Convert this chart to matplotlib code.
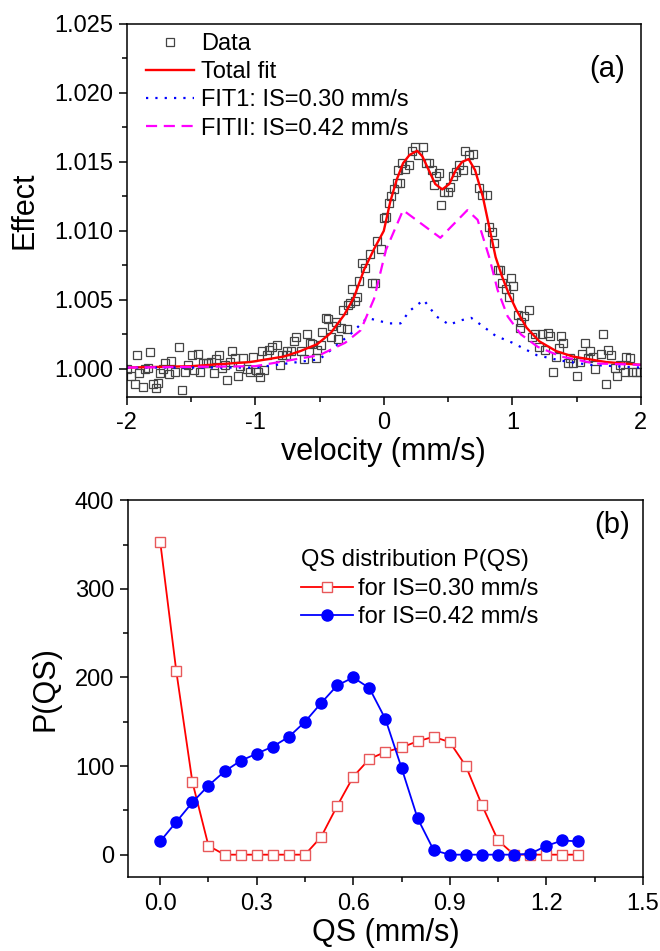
import matplotlib

matplotlib.use("Agg")
import matplotlib.pyplot as plt
from matplotlib.ticker import MultipleLocator

plt.rcParams["font.family"] = ["Liberation Sans", "DejaVu Sans"]

# ---- panel (a): Mossbauer spectrum ----
data_v = [
    -1.998, -1.964, -1.938, -1.920, -1.902, -1.876, -1.855, -1.834, -1.816, -1.798,
    -1.772, -1.756, -1.738, -1.720, -1.699, -1.673, -1.652, -1.621, -1.590, -1.569,
    -1.549, -1.522, -1.491, -1.478, -1.444, -1.426, -1.408, -1.387, -1.366, -1.341,
    -1.323, -1.304, -1.279, -1.257, -1.232, -1.218, -1.200, -1.179, -1.159, -1.132,
    -1.115, -1.097, -1.062, -1.037, -1.019, -0.998, -0.980, -0.964, -0.945, -0.933,
    -0.912, -0.894, -0.868, -0.834, -0.808, -0.790, -0.764, -0.751, -0.719, -0.699,
    -0.686, -0.647, -0.621, -0.600, -0.574, -0.556, -0.530, -0.517, -0.491, -0.478,
    -0.452, -0.434, -0.413, -0.400, -0.374, -0.356, -0.330, -0.314, -0.288, -0.278,
    -0.263, -0.244, -0.226, -0.210, -0.193, -0.166, -0.148, -0.107, -0.088, -0.065,
    -0.049, -0.023, 0.003, 0.016, 0.037, 0.055, 0.080, 0.099, 0.107, 0.125,
    0.140, 0.166, 0.197, 0.218, 0.244, 0.270, 0.306, 0.327, 0.353, 0.374,
    0.392, 0.405, 0.426, 0.444, 0.470, 0.497, 0.514, 0.540, 0.561, 0.587,
    0.618, 0.634, 0.660, 0.696, 0.712, 0.738, 0.764, 0.800, 0.821, 0.842,
    0.860, 0.886, 0.904, 0.920, 0.951, 0.972, 0.990, 1.008, 1.042, 1.060,
    1.068, 1.094, 1.133, 1.154, 1.180, 1.206, 1.232, 1.258, 1.276, 1.294,
    1.315, 1.341, 1.362, 1.380, 1.398, 1.432, 1.450, 1.471, 1.502, 1.523,
    1.543, 1.564, 1.588, 1.606, 1.631, 1.647, 1.691, 1.709, 1.730, 1.743,
    1.769, 1.795, 1.814, 1.834, 1.873, 1.886, 1.912, 1.933, 1.964, 1.990,
]
data_eff = [
    1.0000, 0.9995, 0.9989, 1.0010, 0.9997, 0.9987, 1.0000, 1.0001, 1.0012, 0.9989,
    0.9986, 0.9990, 0.9997, 1.0000, 1.0004, 0.9996, 1.0006, 0.9998, 1.0016, 0.9985,
    0.9998, 1.0003, 1.0010, 0.9999, 1.0011, 0.9998, 1.0004, 1.0004, 1.0004, 1.0005,
    0.9997, 1.0007, 1.0010, 1.0001, 1.0003, 0.9992, 1.0005, 1.0013, 1.0008, 0.9995,
    1.0002, 1.0008, 1.0000, 0.9998, 1.0009, 0.9999, 0.9998, 0.9994, 1.0013, 0.9999,
    1.0010, 1.0014, 1.0016, 1.0017, 1.0003, 1.0010, 1.0010, 1.0013, 1.0013, 1.0020,
    1.0023, 1.0013, 1.0007, 1.0025, 1.0019, 1.0018, 1.0008, 1.0014, 1.0017, 1.0027,
    1.0037, 1.0036, 1.0023, 1.0031, 1.0034, 1.0022, 1.0030, 1.0043, 1.0029, 1.0046,
    1.0048, 1.0058, 1.0049, 1.0052, 1.0064, 1.0077, 1.0073, 1.0083, 1.0062, 1.0062,
    1.0093, 1.0087, 1.0109, 1.0110, 1.0120, 1.0125, 1.0130, 1.0135, 1.0144, 1.0135,
    1.0149, 1.0145, 1.0148, 1.0158, 1.0161, 1.0155, 1.0161, 1.0149, 1.0149, 1.0144,
    1.0133, 1.0140, 1.0142, 1.0119, 1.0128, 1.0128, 1.0132, 1.0140, 1.0143, 1.0148,
    1.0144, 1.0158, 1.0155, 1.0156, 1.0144, 1.0131, 1.0126, 1.0126, 1.0103, 1.0099,
    1.0091, 1.0072, 1.0072, 1.0062, 1.0058, 1.0052, 1.0066, 1.0060, 1.0039, 1.0030,
    1.0034, 1.0038, 1.0043, 1.0023, 1.0025, 1.0016, 1.0025, 1.0014, 1.0026, 1.0024,
    0.9998, 1.0009, 1.0015, 1.0024, 1.0019, 1.0004, 1.0008, 1.0004, 0.9995, 1.0005,
    1.0011, 1.0019, 1.0008, 1.0013, 1.0009, 1.0000, 1.0011, 1.0025, 0.9989, 1.0014,
    1.0010, 1.0001, 0.9995, 1.0003, 0.9998, 1.0009, 1.0008, 0.9998, 0.9998, 0.9998,
]

fit_v = [-2.0, -1.5, -1.04, -0.777, -0.647, -0.517, -0.413, -0.309, -0.231, -0.153,
         -0.075, 0.0, 0.05, 0.10, 0.15, 0.20, 0.26, 0.30, 0.35, 0.40, 0.455, 0.51,
         0.56, 0.61, 0.66, 0.71, 0.77, 0.82, 0.87, 0.92, 0.97, 1.03, 1.11, 1.21,
         1.34, 1.47, 1.60, 1.73, 1.86, 2.0]
fit_total = [1.0001, 1.0002, 1.0005, 1.0009, 1.0013, 1.0018, 1.0026, 1.0039, 1.0052,
             1.0072, 1.0087, 1.0100, 1.0121, 1.0137, 1.0149, 1.0155, 1.0158, 1.0154,
             1.0144, 1.0134, 1.0130, 1.0134, 1.0144, 1.0150, 1.0152, 1.0144, 1.0125,
             1.0103, 1.0081, 1.0067, 1.0055, 1.0043, 1.0030, 1.0020, 1.0013, 1.0009,
             1.0007, 1.0005, 1.0004, 1.0003]

fit1_v = [-2.0, -1.0, -0.5, -0.25, -0.13, 0.04, 0.13, 0.20, 0.31, 0.41, 0.51, 0.59,
          0.68, 0.77, 0.87, 1.0, 1.19, 1.38, 1.6, 2.0]
fit1 = [1.0001, 1.0001, 1.0007, 1.0026, 1.0037, 1.0033, 1.0033, 1.0042, 1.0050,
        1.0038, 1.0032, 1.0035, 1.0037, 1.0031, 1.0024, 1.0019, 1.0010, 1.0006,
        1.0003, 1.0001]

fit2_v = [-2.0, -1.0, -0.5, -0.3, -0.18, -0.075, 0.016, 0.15, 0.44, 0.65, 0.73,
          0.82, 0.886, 0.964, 1.067, 1.198, 1.38, 1.64, 2.0]
fit2 = [1.0001, 1.0002, 1.0010, 1.0019, 1.0028, 1.0051, 1.0086, 1.0115, 1.0095,
        1.0115, 1.0108, 1.0081, 1.0057, 1.0038, 1.0025, 1.0016, 1.0009, 1.0004,
        1.0003]

# ---- panel (b): QS distributions ----
qs = [0.00, 0.05, 0.10, 0.15, 0.20, 0.25, 0.30, 0.35, 0.40, 0.45, 0.50, 0.55, 0.60, 0.65,
      0.70, 0.75, 0.80, 0.85, 0.90, 0.95, 1.00, 1.05, 1.10, 1.15, 1.20, 1.25, 1.30]
p_is030 = [353, 207, 82, 10, 0, 0, 0, 0, 0, 0, 20, 55, 88, 108,
           116, 121, 128, 133, 127, 100, 56, 16, 0, 0, 0, 0, 0]
p_is042 = [15, 37, 59, 78, 94, 106, 114, 122, 133, 150, 171, 191, 200, 188,
           153, 98, 41, 5, 0, 0, 0, 0, 0, 1, 10, 16, 15]


def style_axes(ax, xpad=4):
    for sp in ax.spines.values():
        sp.set_linewidth(1.1)
    ax.tick_params(which="both", direction="out", top=False, right=False,
                   labelsize=17, pad=4)
    ax.tick_params(axis="x", which="both", pad=xpad)
    ax.tick_params(which="major", length=6, width=1.1)
    ax.tick_params(which="minor", length=3.5, width=1.1)


fig = plt.figure(figsize=(6.6, 9.51), dpi=100)

ax1 = fig.add_axes([0.192, 0.583, 0.779, 0.392])
ax1.plot(data_v, data_eff, ls="none", marker="s", ms=5.5, mfc="none", mec="#444444",
         mew=0.9, label="Data")
ax1.plot(fit_v, fit_total, color="#ff0000", lw=1.7, label="Total fit")
ax1.plot(fit1_v, fit1, color="#0000ff", lw=1.6, ls=(0, (1, 3.2)), label="FIT1: IS=0.30 mm/s")
ax1.plot(fit2_v, fit2, color="#ff00ff", lw=1.6, ls=(0, (5, 3)), label="FITII: IS=0.42 mm/s")
ax1.set_xlim(-2, 2)
ax1.set_ylim(0.998, 1.025)
ax1.xaxis.set_major_locator(MultipleLocator(1))
ax1.xaxis.set_minor_locator(MultipleLocator(0.5))
ax1.yaxis.set_major_locator(MultipleLocator(0.005))
ax1.yaxis.set_minor_locator(MultipleLocator(0.0025))
ax1.yaxis.set_major_formatter(plt.FormatStrFormatter("%.3f"))
ax1.xaxis.set_major_formatter(plt.FuncFormatter(lambda v, p: f"{v:.0f}"))
style_axes(ax1, xpad=5)
ax1.set_xlabel("velocity (mm/s)", fontsize=22, labelpad=2)
ax1.set_ylabel("Effect", fontsize=22, labelpad=10)
ax1.legend(loc="upper left", frameon=False, fontsize=17, handlelength=2.0,
           handletextpad=0.3, labelspacing=0.26, borderaxespad=0.0,
           bbox_to_anchor=(0.02, 1.0))
ax1.text(0.97, 0.88, "(a)", transform=ax1.transAxes, ha="right", va="center", fontsize=21)

ax2 = fig.add_axes([0.194, 0.078, 0.780, 0.396])
ax2.plot(qs, p_is030, color="#ff0000", lw=1.3, marker="s", ms=6.5, mfc="white",
         mec="#e8585a", mew=1.0, label="for IS=0.30 mm/s")
ax2.plot(qs, p_is042, color="#0000ff", lw=1.3, marker="o", ms=8, mfc="#0000ff",
         mec="#0000ff", label="for IS=0.42 mm/s")
ax2.set_xlim(-0.1, 1.5)
ax2.set_ylim(-25, 400)
ax2.xaxis.set_major_locator(MultipleLocator(0.3))
ax2.xaxis.set_minor_locator(MultipleLocator(0.15))
ax2.yaxis.set_major_locator(MultipleLocator(100))
ax2.yaxis.set_minor_locator(MultipleLocator(50))
ax2.xaxis.set_major_formatter(plt.FormatStrFormatter("%.1f"))
style_axes(ax2, xpad=6)
ax2.set_xlabel("QS (mm/s)", fontsize=22, labelpad=2)
ax2.set_ylabel("P(QS)", fontsize=22, labelpad=10)
ax2.legend(loc="upper left", bbox_to_anchor=(0.318, 0.895), frameon=False, fontsize=17,
           title="QS distribution P(QS)", title_fontsize=17, handlelength=2.2,
           handletextpad=0.2, labelspacing=0.28, alignment="left", borderaxespad=0.0)
ax2.text(0.975, 0.935, "(b)", transform=ax2.transAxes, ha="right", va="center", fontsize=21)

fig.savefig("out.png", dpi=100)
